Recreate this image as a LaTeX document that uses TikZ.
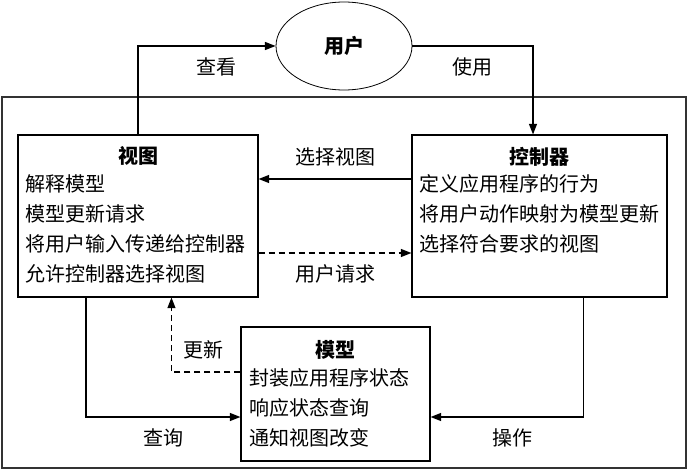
\documentclass[tikz,border=0pt]{standalone}
\usepackage{fontspec}
\setmainfont{Noto Sans CJK SC}
\usetikzlibrary{shapes.geometric, arrows.meta, positioning, calc}
\tikzset{
    block/.style={
        draw=black,
        fill=white,
        line width=0.8pt,
        minimum height=121.5pt,
        inner sep=0pt
    },
    frame/.style={
        draw=black!80,
        line width=1pt,
        minimum width=513pt,
        minimum height=278.25pt,
        inner sep=0pt
    },
    user/.style={
        ellipse,
        draw=black,
        line width=0.6pt,
        minimum width=102pt,
        minimum height=66pt,
        font=\fontsize{15pt}{18pt}\selectfont\bfseries
    },
    title/.style={
        font=\fontsize{15pt}{18pt}\selectfont\bfseries,
        inner sep=0pt
    },
    items/.style={
        font=\fontsize{15pt}{22.5pt}\selectfont,
        align=left,
        inner sep=0pt
    },
    label/.style={
        font=\fontsize{15pt}{18pt}\selectfont,
        inner sep=0pt
    },
    arrow/.style={
        -{Triangle[length=8pt,width=6pt]},
        line width=1pt,
        black
    },
    dasharrow/.style={
        arrow,
        dash pattern=on 4.5pt off 3pt
    }
}

\begin{document}
\begin{tikzpicture}[x=0.75pt, y=-0.75pt]
    \useasboundingbox (0,0) rectangle (688,470);

    % MVC frame and user
    \node[frame] (mvc) at (344,282.5) {};
    \node[user] (user) at (344,46) {用户};

    % View
    \node[block, minimum width=180pt] (view) at (138,216) {};
    \node[title] (viewtitle) at ($(view.north)+(0,21)$) {视图};
    \node[items, anchor=north west] (viewtext) at ($(view.north west)+(8,40)$)
        {解释模型\\模型更新请求\\将用户输入传递给控制器\\允许控制器选择视图};

    % Controller
    \node[block, minimum width=191.25pt] (ctrl) at (539.5,216) {};
    \node[title] (ctrltitle) at ($(ctrl.north)+(0,22)$) {控制器};
    \node[items, anchor=north west] (ctrltext) at ($(ctrl.north west)+(8,40)$)
        {定义应用程序的行为\\将用户动作映射为模型更新\\选择符合要求的视图};

    % Model
    \node[block, minimum width=141.75pt, minimum height=100.5pt] (model) at (335.5,394) {};
    \node[title] (modeltitle) at ($(model.north)+(0,23)$) {模型};
    \node[items, anchor=north west] (modeltext) at ($(model.north west)+(9,42)$)
        {封装应用程序状态\\响应状态查询\\通知视图改变};

    % Connectors
    \draw[arrow] (view.north) |- (user.west);
    \draw[arrow] (user.east) -| ($(ctrl.north)+(-6.5,0)$);
    \draw[arrow] ($(ctrl.west)+(0,-37)$) -- ($(view.east)+(0,-37)$);
    \draw[dasharrow] ($(view.east)+(0,37)$) -- ($(ctrl.west)+(0,37)$);
    \draw[arrow] ($(view.south west)+(68.5,0)$) |- ($(model.west)+(0,23)$);
    \draw[arrow] ($(ctrl.south west)+(172,0)$) |- ($(model.east)+(0,23)$);
    \draw[dasharrow] ($(model.west)+(0,-22)$) -| ($(view.south west)+(154,0)$);

    % Labels
    \node[label] (lblview) at (216,67) {查看};
    \node[label] (lbluse) at (472,67) {使用};
    \node[label] (lblselect) at (335,157) {选择视图};
    \node[label] (lblrequest) at (335,274) {用户请求};
    \node[label] (lblupdate) at (203,350) {更新};
    \node[label] (lblquery) at (163,438) {查询};
    \node[label] (lbloperate) at (512,438) {操作};
\end{tikzpicture}
\end{document}
